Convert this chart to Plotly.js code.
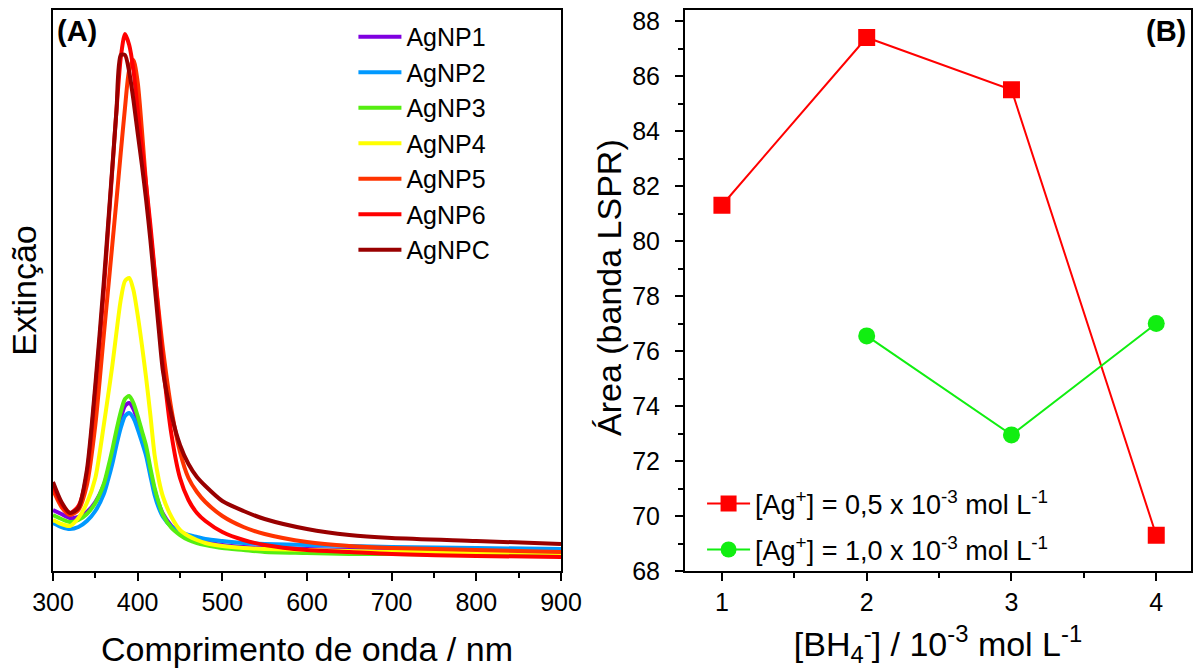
<!DOCTYPE html>
<html>
<head>
<meta charset="utf-8">
<script src="https://cdn.plot.ly/plotly-3.0.1.min.js"></script>
<style>html,body{margin:0;padding:0;background:#fff;}#chart{width:1194px;height:668px;}</style>
</head>
<body>
<div id="chart"></div>
<script>
// ---- Panel A: extinction spectra ----
const wavelength = [300,310,320,330,340,350,360,365,370,375,380,385,390,395,400,405,410,415,420,425,430,440,450,460,470,480,500,525,550,600,650,700,800,900];
const agnp1 = [0.61,0.57,0.53,0.54,0.59,0.69,0.86,1.00,1.17,1.36,1.53,1.65,1.68,1.62,1.50,1.35,1.20,0.99,0.81,0.67,0.57,0.45,0.38,0.34,0.31,0.29,0.26,0.24,0.23,0.22,0.21,0.21,0.20,0.19];
const agnp2 = [0.48,0.44,0.42,0.44,0.50,0.60,0.77,0.91,1.07,1.26,1.43,1.55,1.58,1.53,1.42,1.29,1.15,0.95,0.76,0.63,0.54,0.44,0.39,0.36,0.34,0.32,0.30,0.28,0.27,0.26,0.25,0.24,0.23,0.22];
const agnp3 = [0.56,0.52,0.49,0.51,0.57,0.68,0.87,1.03,1.21,1.41,1.59,1.72,1.75,1.68,1.55,1.40,1.25,1.03,0.83,0.68,0.56,0.43,0.36,0.31,0.28,0.26,0.23,0.21,0.19,0.18,0.17,0.17,0.16,0.16];
const agnp4 = [0.51,0.47,0.45,0.53,0.68,0.93,1.46,1.75,2.05,2.39,2.71,2.90,2.93,2.81,2.56,2.26,1.93,1.56,1.16,0.91,0.74,0.54,0.41,0.35,0.31,0.28,0.25,0.23,0.22,0.21,0.20,0.19,0.19,0.18];
const agnp5 = [0.81,0.64,0.56,0.61,0.86,1.46,2.36,2.81,3.26,3.71,4.18,4.63,5.01,5.11,4.89,4.41,3.86,3.39,2.99,2.59,2.21,1.61,1.19,0.93,0.79,0.69,0.55,0.44,0.37,0.29,0.25,0.23,0.21,0.19];
const agnp6 = [0.86,0.67,0.58,0.65,0.97,1.81,2.81,3.41,4.01,4.61,5.13,5.37,5.26,5.01,4.61,4.23,3.86,3.46,3.01,2.53,2.06,1.36,0.93,0.71,0.58,0.50,0.39,0.31,0.26,0.21,0.19,0.17,0.15,0.14];
const agnpc = [0.89,0.69,0.58,0.63,1.01,1.86,2.89,3.46,4.03,4.61,5.16,5.16,4.99,4.71,4.38,4.06,3.71,3.31,2.86,2.41,1.99,1.56,1.26,1.07,0.94,0.85,0.70,0.60,0.52,0.42,0.36,0.33,0.30,0.27];
const spectraNames = ['AgNP1','AgNP2','AgNP3','AgNP4','AgNP5','AgNP6','AgNPC'];
const spectraColors = ['#7f00e0','#0099ff','#55ee11','#ffff00','#ff3300','#ff0000','#990000'];
const spectra = [agnp1,agnp2,agnp3,agnp4,agnp5,agnp6,agnpc];

// ---- Panel B: LSPR band area ----
const bh4 = [1,2,3,4];
const area05 = [81.3,87.4,85.5,69.3];
const bh4b = [2,3,4];
const area10 = [76.55,72.95,77.0];
const xTicksA = [300,400,500,600,700,800,900];
const yTicksB = [68,70,72,74,76,78,80,82,84,86,88];

const FONT = 'Liberation Sans, Arial, sans-serif';
const traces = [];
spectra.forEach((s,i)=>{
  traces.push({
    x: wavelength, y: s, type:'scatter', mode:'lines', name: spectraNames[i],
    line:{color:spectraColors[i], width:4, shape:'spline', smoothing:0.7},
    xaxis:'x', yaxis:'y', legend:'legend'
  });
});
traces.push({
  x: bh4, y: area05, type:'scatter', mode:'lines+markers',
  name:'[Ag<sup>+</sup>] = 0,5 x 10<sup>-3</sup> mol L<sup>-1</sup>',
  line:{color:'#ff0000', width:2}, marker:{symbol:'square', size:17, color:'#ff0000'},
  xaxis:'x2', yaxis:'y2', legend:'legend2', legendgroup:'b1'
});
traces.push({
  x: bh4b, y: area10, type:'scatter', mode:'lines+markers',
  name:'[Ag<sup>+</sup>] = 1,0 x 10<sup>-3</sup> mol L<sup>-1</sup>',
  line:{color:'#11ee11', width:2}, marker:{symbol:'circle', size:17, color:'#11ee11'},
  xaxis:'x2', yaxis:'y2', legend:'legend2', legendgroup:'b2'
});

const axisCommon = {
  showline:true, linewidth:2, linecolor:'#000', mirror:true, showgrid:false, zeroline:false,
  ticks:'outside', ticklen:8, tickwidth:2, tickcolor:'#000',
  tickfont:{family:FONT, size:25, color:'#000'}
};
const titleFont = {family:FONT, size:34, color:'#000'};

const layout = {
  width:1194, height:668,
  margin:{l:0, r:0, t:10, b:97},
  paper_bgcolor:'#fff', plot_bgcolor:'#fff',
  font:{family:FONT, color:'#000'},
  xaxis: Object.assign({}, axisCommon, {
    domain:[53/1194, 561/1194], range:[300,900], tickvals:xTicksA,
    minor:{ticks:'outside', ticklen:5, tickwidth:2, tickcolor:'#000', dtick:50},
    title:{text:'Comprimento de onda / nm', font:titleFont, standoff:24},
    anchor:'y'
  }),
  yaxis: Object.assign({}, axisCommon, {
    range:[0,5.61], ticks:'', showticklabels:false,
    title:{text:'Extinção', font:titleFont, standoff:4},
    anchor:'x'
  }),
  xaxis2: Object.assign({}, axisCommon, {
    domain:[685/1194, 1191/1194], range:[0.745,4.24], tickvals:bh4,
    minor:{ticks:'outside', ticklen:5, tickwidth:2, tickcolor:'#000', dtick:0.5, tick0:0.5},
    title:{text:'[BH<sub>4</sub><sup>-</sup>] / 10<sup>-3</sup> mol L<sup>-1</sup>', font:titleFont, standoff:18},
    anchor:'y2'
  }),
  yaxis2: Object.assign({}, axisCommon, {
    range:[68,88.4], tickvals:yTicksB, ticklabelstandoff:10,
    minor:{ticks:'outside', ticklen:5, tickwidth:2, tickcolor:'#000', dtick:1, tick0:69},
    anchor:'x2'
  }),
  legend:{
    x:0.296, y:0.993, xanchor:'left', yanchor:'top', bgcolor:'rgba(0,0,0,0)',
    font:{family:FONT, size:25, color:'#000'}, itemwidth:43, tracegroupgap:0
  },
  legend2:{
    x:0.588, y:-0.006, xanchor:'left', yanchor:'bottom', bgcolor:'rgba(0,0,0,0)',
    font:{family:FONT, size:27, color:'#000'}, traceorder:'grouped', tracegroupgap:8, itemwidth:43
  },
  annotations:[
    {text:'<b>(A)</b>', xref:'paper', yref:'paper', x:55/1194, y:(571-31)/561, xanchor:'left', yanchor:'middle', showarrow:false, font:{family:FONT, size:29, color:'#000'}},
    {text:'<b>(B)</b>', xref:'paper', yref:'paper', x:1188/1194, y:(571-31)/561, xanchor:'right', yanchor:'middle', showarrow:false, font:{family:FONT, size:29, color:'#000'}},
    {text:'Área (banda LSPR)', xref:'paper', yref:'paper', x:609/1194, y:(571-288)/561, xanchor:'center', yanchor:'middle', textangle:-90, showarrow:false, font:titleFont}
  ],
  showlegend:true
};

Plotly.newPlot('chart', traces, layout, {displayModeBar:false, staticPlot:true});
</script>
</body>
</html>
